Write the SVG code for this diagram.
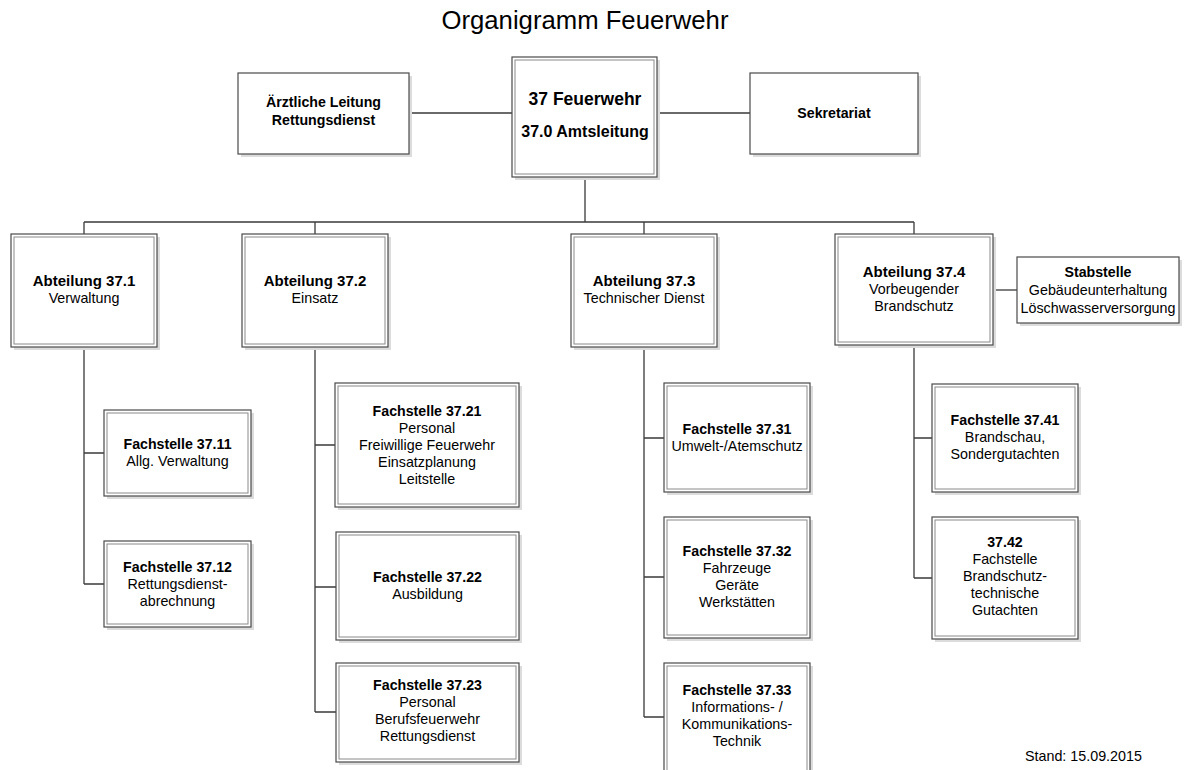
<svg xmlns="http://www.w3.org/2000/svg" width="1189" height="770" viewBox="0 0 1189 770">
<style>
  text { font-family: "Liberation Sans", Arial, sans-serif; fill: #000; text-anchor: middle; }
  .t { font-size: 14.3px; }
  .b { font-size: 14.2px; font-weight: bold; }
  .h { font-size: 15px; font-weight: bold; }
  .title { font-size: 25.7px; }
  .stand { font-size: 14.3px; text-anchor: start; }
  .sh { fill: #dcdcdc; }
  .o { fill: #fff; stroke: #4a4a4a; stroke-width: 1.2; }
  .i { fill: none; stroke: #8a8a8a; stroke-width: 1; }
  .c { fill: none; stroke: #3a3a3a; stroke-width: 1.3; }
</style>
<rect width="1189" height="770" fill="#fff"/>
<text class="title" x="585" y="29">Organigramm Feuerwehr</text>

<g id="connectors">
  <path class="c" d="M409 113H512M657 113H750"/>
  <path class="c" d="M585 177V222M84 222H914M84 222V234M315 222V234M644 222V234M914 222V234"/>
  <path class="c" d="M993 290H1017"/>
  <path class="c" d="M84 347V584M84 453H104M84 584H104"/>
  <path class="c" d="M315 347V712M315 445H335M315 587H336M315 712H336"/>
  <path class="c" d="M644 347V717M644 438H664M644 577H664M644 717H664"/>
  <path class="c" d="M914 345V578M914 438H932M914 578H932"/>
</g>

<g id="n-main">
  <rect class="sh" x="515" y="60" width="145" height="120"/>
  <rect class="o" x="512" y="57" width="145" height="120"/>
  <rect class="i" x="515" y="60" width="139" height="114"/>
  <text x="585" y="105" style="font-size:17.5px;font-weight:bold">37 Feuerwehr</text>
  <text x="585" y="137" style="font-size:16px;font-weight:bold">37.0 Amtsleitung</text>
</g>

<g id="n-aerztlich">
  <rect class="sh" x="241" y="76" width="171" height="81"/>
  <rect class="o" x="238" y="73" width="171" height="81"/>
  <text class="b" x="323.5" y="107">Ärztliche Leitung</text>
  <text class="b" x="323.5" y="125">Rettungsdienst</text>
</g>

<g id="n-sekretariat">
  <rect class="sh" x="753" y="76" width="168" height="81"/>
  <rect class="o" x="750" y="73" width="168" height="81"/>
  <text class="b" x="834" y="118">Sekretariat</text>
</g>

<g id="n-abt1">
  <rect class="sh" x="14" y="237" width="146" height="113"/>
  <rect class="o" x="11" y="234" width="146" height="113"/>
  <rect class="i" x="14" y="237" width="140" height="107"/>
  <text class="h" x="84" y="286">Abteilung 37.1</text>
  <text class="t" x="84" y="303">Verwaltung</text>
</g>

<g id="n-abt2">
  <rect class="sh" x="245" y="237" width="146" height="113"/>
  <rect class="o" x="242" y="234" width="146" height="113"/>
  <rect class="i" x="245" y="237" width="140" height="107"/>
  <text class="h" x="315" y="286">Abteilung 37.2</text>
  <text class="t" x="315" y="303">Einsatz</text>
</g>

<g id="n-abt3">
  <rect class="sh" x="574" y="237" width="146" height="113"/>
  <rect class="o" x="571" y="234" width="146" height="113"/>
  <rect class="i" x="574" y="237" width="140" height="107"/>
  <text class="h" x="644" y="286">Abteilung 37.3</text>
  <text class="t" x="644" y="303">Technischer Dienst</text>
</g>

<g id="n-abt4">
  <rect class="sh" x="838" y="237" width="158" height="111"/>
  <rect class="o" x="835" y="234" width="158" height="111"/>
  <rect class="i" x="838" y="237" width="152" height="105"/>
  <text class="h" x="914" y="277">Abteilung 37.4</text>
  <text class="t" x="914" y="294">Vorbeugender</text>
  <text class="t" x="914" y="311">Brandschutz</text>
</g>

<g id="n-stab">
  <rect class="sh" x="1020" y="260" width="162" height="66"/>
  <rect class="o" x="1017" y="257" width="162" height="66"/>
  <text class="b" x="1098" y="277">Stabstelle</text>
  <text class="t" x="1098" y="295">Gebäudeunterhaltung</text>
  <text class="t" x="1098" y="313">Löschwasserversorgung</text>
</g>

<g id="n-3711">
  <rect class="sh" x="107" y="413" width="147" height="86"/>
  <rect class="o" x="104" y="410" width="147" height="86"/>
  <rect class="i" x="107" y="413" width="141" height="80"/>
  <text class="b" x="177.5" y="449">Fachstelle 37.11</text>
  <text class="t" x="177.5" y="466">Allg. Verwaltung</text>
</g>

<g id="n-3712">
  <rect class="sh" x="107" y="544" width="147" height="86"/>
  <rect class="o" x="104" y="541" width="147" height="86"/>
  <rect class="i" x="107" y="544" width="141" height="80"/>
  <text class="b" x="177.5" y="572">Fachstelle 37.12</text>
  <text class="t" x="177.5" y="589">Rettungsdienst-</text>
  <text class="t" x="177.5" y="606">abrechnung</text>
</g>

<g id="n-3721">
  <rect class="sh" x="338" y="386" width="184" height="124"/>
  <rect class="o" x="335" y="383" width="184" height="124"/>
  <rect class="i" x="338" y="386" width="178" height="118"/>
  <text class="b" x="427" y="416">Fachstelle 37.21</text>
  <text class="t" x="427" y="433">Personal</text>
  <text class="t" x="427" y="450">Freiwillige Feuerwehr</text>
  <text class="t" x="427" y="467">Einsatzplanung</text>
  <text class="t" x="427" y="484">Leitstelle</text>
</g>

<g id="n-3722">
  <rect class="sh" x="339" y="535" width="183" height="108"/>
  <rect class="o" x="336" y="532" width="183" height="108"/>
  <rect class="i" x="339" y="535" width="177" height="102"/>
  <text class="b" x="427.5" y="582">Fachstelle 37.22</text>
  <text class="t" x="427.5" y="599">Ausbildung</text>
</g>

<g id="n-3723">
  <rect class="sh" x="339" y="666" width="183" height="99"/>
  <rect class="o" x="336" y="663" width="183" height="99"/>
  <rect class="i" x="339" y="666" width="177" height="93"/>
  <text class="b" x="427.5" y="690">Fachstelle 37.23</text>
  <text class="t" x="427.5" y="707">Personal</text>
  <text class="t" x="427.5" y="724">Berufsfeuerwehr</text>
  <text class="t" x="427.5" y="741">Rettungsdienst</text>
</g>

<g id="n-3731">
  <rect class="sh" x="667" y="386" width="146" height="109"/>
  <rect class="o" x="664" y="383" width="146" height="109"/>
  <rect class="i" x="667" y="386" width="140" height="103"/>
  <text class="b" x="737" y="434">Fachstelle 37.31</text>
  <text class="t" x="737" y="451">Umwelt-/Atemschutz</text>
</g>

<g id="n-3732">
  <rect class="sh" x="667" y="520" width="146" height="121"/>
  <rect class="o" x="664" y="517" width="146" height="121"/>
  <rect class="i" x="667" y="520" width="140" height="115"/>
  <text class="b" x="737" y="556">Fachstelle 37.32</text>
  <text class="t" x="737" y="573">Fahrzeuge</text>
  <text class="t" x="737" y="590">Geräte</text>
  <text class="t" x="737" y="607">Werkstätten</text>
</g>

<g id="n-3733">
  <rect class="sh" x="667" y="666" width="146" height="115"/>
  <rect class="o" x="664" y="663" width="146" height="115"/>
  <rect class="i" x="667" y="666" width="140" height="109"/>
  <text class="b" x="737" y="695">Fachstelle 37.33</text>
  <text class="t" x="737" y="712">Informations- /</text>
  <text class="t" x="737" y="729">Kommunikations-</text>
  <text class="t" x="737" y="746">Technik</text>
</g>

<g id="n-3741">
  <rect class="sh" x="935" y="387" width="146" height="108"/>
  <rect class="o" x="932" y="384" width="146" height="108"/>
  <rect class="i" x="935" y="387" width="140" height="102"/>
  <text class="b" x="1005" y="425">Fachstelle 37.41</text>
  <text class="t" x="1005" y="442">Brandschau,</text>
  <text class="t" x="1005" y="459">Sondergutachten</text>
</g>

<g id="n-3742">
  <rect class="sh" x="935" y="520" width="146" height="122"/>
  <rect class="o" x="932" y="517" width="146" height="122"/>
  <rect class="i" x="935" y="520" width="140" height="116"/>
  <text class="b" x="1005" y="547">37.42</text>
  <text class="t" x="1005" y="564">Fachstelle</text>
  <text class="t" x="1005" y="581">Brandschutz-</text>
  <text class="t" x="1005" y="598">technische</text>
  <text class="t" x="1005" y="615">Gutachten</text>
</g>

<text class="stand" x="1025" y="761">Stand: 15.09.2015</text>
</svg>
